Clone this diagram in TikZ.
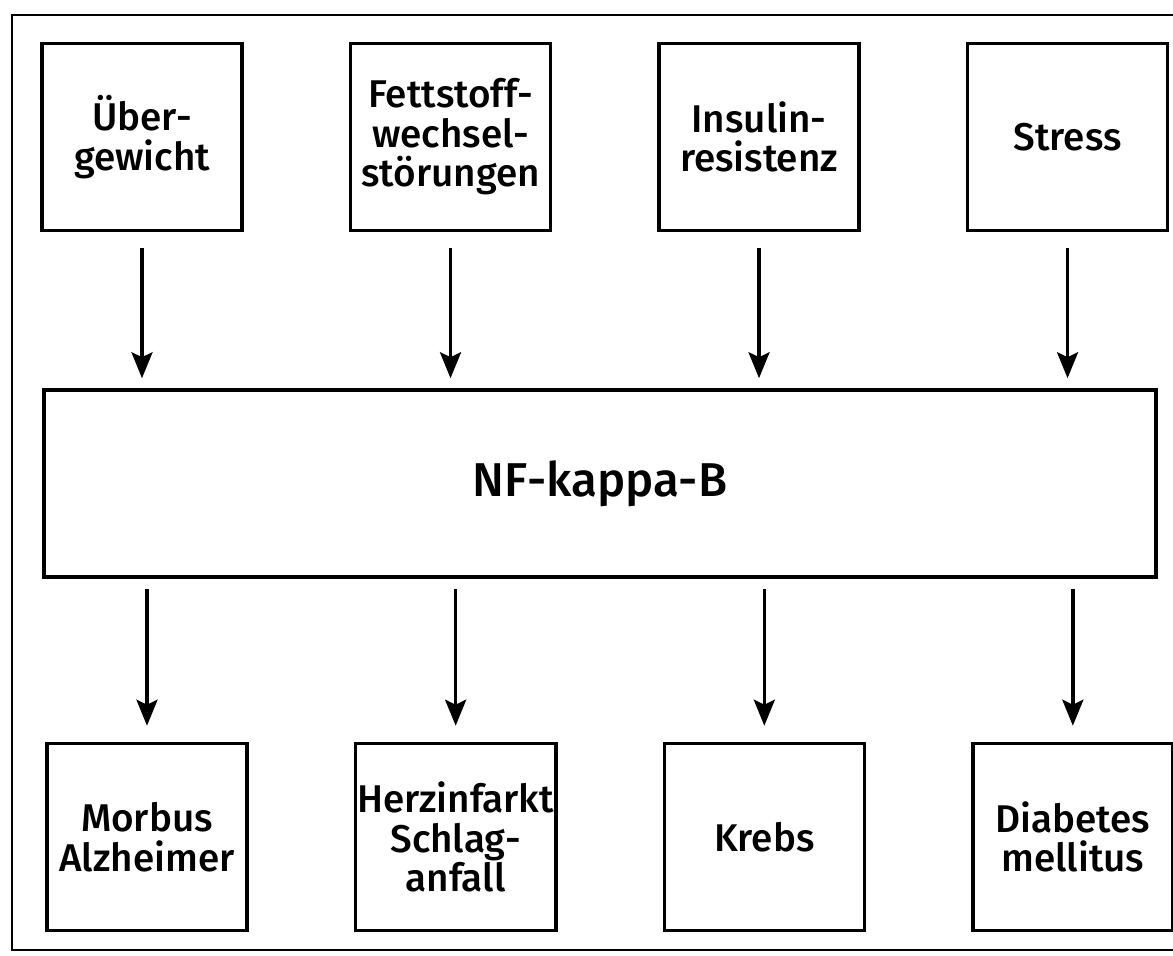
\documentclass[tikz,border=0pt]{standalone}
\usepackage{fontspec}
\setmainfont{Fira Sans Medium}
\usetikzlibrary{arrows.meta,positioning}

\begin{document}
\begin{tikzpicture}[->,>={Stealth[length=0.52cm,width=0.42cm,inset=0.1cm]},line width=2pt,node distance=2.1cm,
box/.style={draw,rectangle,minimum width=4cm,minimum height=3.74cm,align=center,inner sep=1pt,font=\fontsize{22}{22.5}\selectfont},
wide/.style={draw,rectangle,minimum width=22.24cm,minimum height=3.74cm,font=\fontsize{27}{27}\selectfont}]
\useasboundingbox (0,0) rectangle (23.46,-19.12);
\draw[-,line width=1.6pt] (0.24,-0.3) rectangle (24,-19.0);
\node[box] (ueber) at (2.84,-2.74) {Über-\\gewicht};
\node[box] [right=of ueber](fett) {Fettstoff-\\wechsel-\\störungen};
\node[box] [right=of fett](insulin) {Insulin-\\resistenz};
\node[box] [right=of insulin](stress) {Stress};
\node[wide] (nfkb) at (12,-9.67) {NF-kappa-B};
\node[box] (morbus) at (2.94,-16.74) {Morbus\\Alzheimer};
\node[box] [right=of morbus](herz) {Herzinfarkt\\Schlag-\\anfall};
\node[box] [right=of herz](krebs) {Krebs};
\node[box] [right=of krebs](diabetes) {Diabetes\\mellitus};
\path[shorten <=0.32cm,shorten >=0.2cm] (ueber) edge (ueber |- nfkb.north)
(fett) edge (fett |- nfkb.north)
(insulin) edge (insulin |- nfkb.north)
(stress) edge (stress |- nfkb.north);
\path[shorten <=0.2cm,shorten >=0.32cm] (nfkb.south -| morbus) edge (morbus)
(nfkb.south -| herz) edge (herz)
(nfkb.south -| krebs) edge (krebs)
(nfkb.south -| diabetes) edge (diabetes)
;\end{tikzpicture}
\end{document}
